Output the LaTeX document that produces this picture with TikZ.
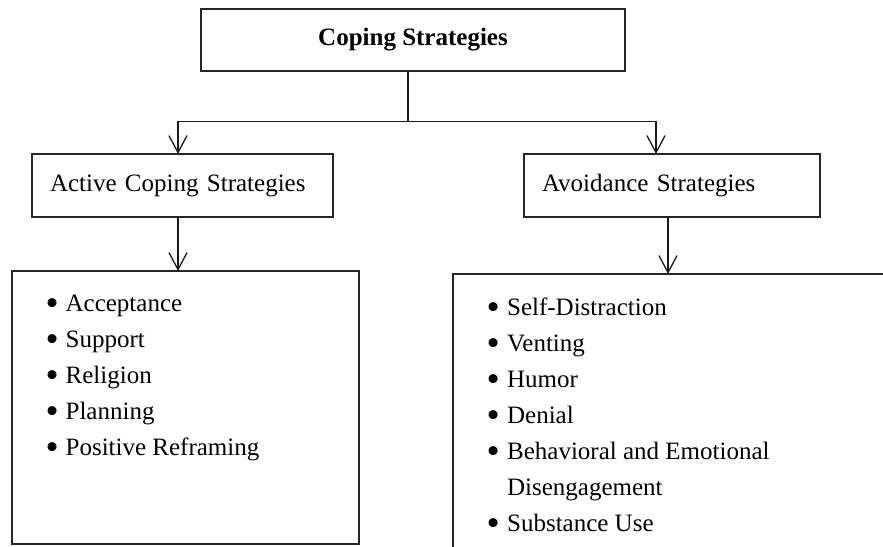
\documentclass[tikz,border=0pt]{standalone}
\usepackage{fontspec}
\setmainfont{Liberation Serif}
\usetikzlibrary{arrows.meta}
\newcommand{\mybul}{\raisebox{-4.2pt}{\scalebox{1.5}{\textbullet}}}
\begin{document}
\begin{tikzpicture}[x=1pt,y=-1pt,
  box/.style={draw=black!85, line width=1.6pt, rectangle, inner sep=0pt, outer sep=0pt, font=\fontsize{25}{36}\selectfont},
  midbox/.style={box, minimum height=63pt, inner xsep=18pt, inner ysep=0pt, align=left},
  listtext/.style={inner sep=0pt, outer sep=0pt, anchor=north west, font=\fontsize{25}{36}\selectfont},
  conn/.style={draw=black!90, line width=1.3pt},
  arr/.style={-{Straight Barb[length=17pt,width=18pt]}}]
\clip (0,0) rectangle (883,546);
\fill[white] (0,0) rectangle (883,546);
% boxes
\node[box, minimum width=424pt, minimum height=62pt, font=\fontsize{25}{36}\selectfont\bfseries] (top) at (413,40) {Coping Strategies};
\node[midbox, text width=265pt] (ml) at (182.5,185.5) {Active Coping Strategies};
\node[midbox, text width=260pt] (mr) at (672,185.5) {Avoidance Strategies};
\node[box, minimum width=347pt, minimum height=273pt] (bl) at (185.5,407.5) {};
\node[box, anchor=north west, minimum width=500pt, minimum height=320pt] (br) at (453,274) {};
% lists
\node[listtext] (lt) at (45.5,286) {\begin{tabular}{@{}l@{\hspace{7pt}}l@{}}
\mybul & Acceptance\\
\mybul & Support\\
\mybul & Religion\\
\mybul & Planning\\
\mybul & Positive Reframing
\end{tabular}};
\node[listtext] (rt) at (486.5,290) {\begin{tabular}{@{}l@{\hspace{7.5pt}}l@{}}
\mybul & Self-Distraction\\
\mybul & Venting\\
\mybul & Humor\\
\mybul & Denial\\
\mybul & Behavioral and Emotional\\
 & Disengagement\\
\mybul & Substance Use
\end{tabular}};
% connectors
\coordinate (jc) at (408,121.7);
\coordinate (jl) at (178,121.7);
\coordinate (jr) at (656,121.7);
\coordinate (kr) at (668,250);
\draw[conn] (jc |- top.south) -- (jc);
\draw[conn,arr] (jc) -- (jl) -- (jl |- ml.north);
\draw[conn,arr] (jc) -- (jr) -- (jr |- mr.north);
\draw[conn,arr] (jl |- ml.south) -- (jl |- bl.north);
\draw[conn,arr] (kr |- mr.south) -- (kr |- br.north);
\end{tikzpicture}
\end{document}
